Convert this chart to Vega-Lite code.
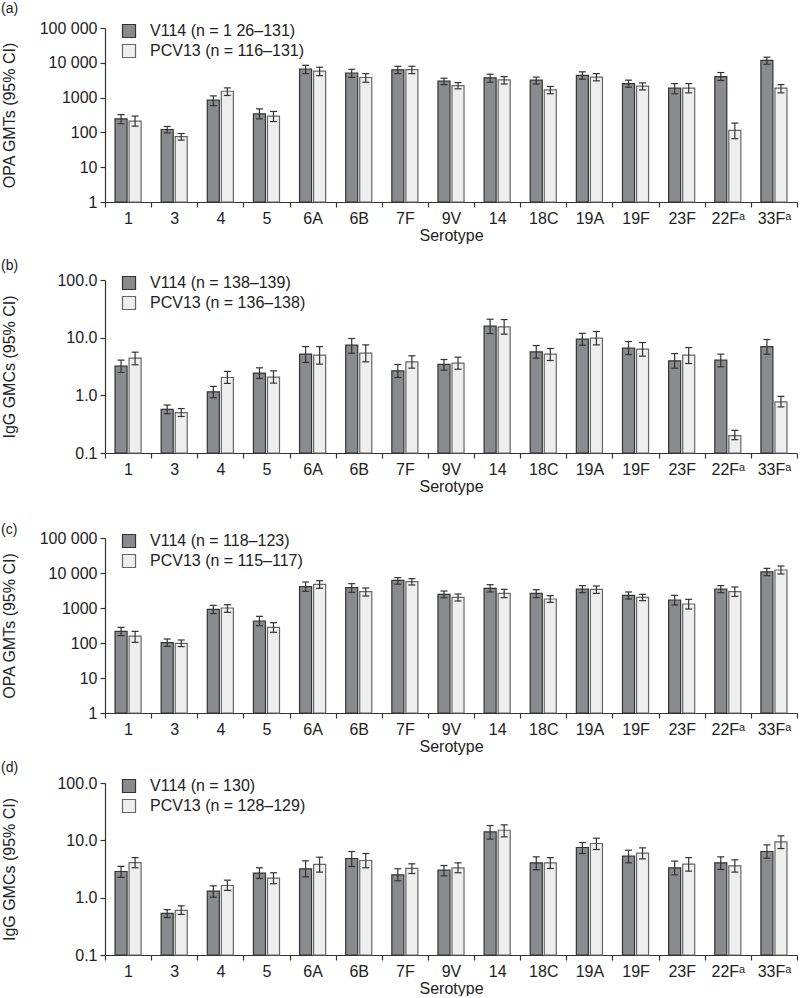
{
  "$schema": "https://vega.github.io/schema/vega-lite/v6.json",
  "padding": {"left": 0, "top": 0, "right": 0, "bottom": 0},
  "spacing": 0,
  "config": {
    "font": "Liberation Sans",
    "view": {"stroke": null},
    "axis": {"labelFont": "Liberation Sans", "titleFont": "Liberation Sans", "labelFontSize": 16, "titleFontSize": 16, "titleFontWeight": "normal", "labelColor": "#222", "titleColor": "#222", "domainColor": "#333", "tickColor": "#333", "grid": false, "tickSize": 5, "domainWidth": 1.2, "tickWidth": 1.2},
    "legend": {"labelFont": "Liberation Sans", "labelFontSize": 16, "labelColor": "#222"},
    "title": {"font": "Liberation Sans", "fontSize": 14, "fontWeight": "normal", "color": "#222", "anchor": "start", "frame": "bounds"}
  },
  "resolve": {"scale": {"x": "independent", "y": "independent", "color": "independent", "stroke": "independent"}, "legend": {"color": "independent"}},
  "datasets": {
    "d": [
      {"panel":"a","serotype":"1","vaccine":"V114","gmt":245,"lo":177,"hi":326},
      {"panel":"a","serotype":"1","vaccine":"PCV13","gmt":210,"lo":151,"hi":294},
      {"panel":"a","serotype":"3","vaccine":"V114","gmt":121,"lo":97,"hi":148},
      {"panel":"a","serotype":"3","vaccine":"PCV13","gmt":76,"lo":60,"hi":93},
      {"panel":"a","serotype":"4","vaccine":"V114","gmt":845,"lo":590,"hi":1120},
      {"panel":"a","serotype":"4","vaccine":"PCV13","gmt":1520,"lo":1150,"hi":1900},
      {"panel":"a","serotype":"5","vaccine":"V114","gmt":340,"lo":245,"hi":475},
      {"panel":"a","serotype":"5","vaccine":"PCV13","gmt":294,"lo":205,"hi":400},
      {"panel":"a","serotype":"6A","vaccine":"V114","gmt":6640,"lo":4900,"hi":8500},
      {"panel":"a","serotype":"6A","vaccine":"PCV13","gmt":5750,"lo":4270,"hi":7450},
      {"panel":"a","serotype":"6B","vaccine":"V114","gmt":5100,"lo":3800,"hi":6500},
      {"panel":"a","serotype":"6B","vaccine":"PCV13","gmt":3780,"lo":2760,"hi":4900},
      {"panel":"a","serotype":"7F","vaccine":"V114","gmt":6300,"lo":4900,"hi":7950},
      {"panel":"a","serotype":"7F","vaccine":"PCV13","gmt":6350,"lo":4900,"hi":7950},
      {"panel":"a","serotype":"9V","vaccine":"V114","gmt":2960,"lo":2360,"hi":3600},
      {"panel":"a","serotype":"9V","vaccine":"PCV13","gmt":2220,"lo":1790,"hi":2700},
      {"panel":"a","serotype":"14","vaccine":"V114","gmt":3700,"lo":2760,"hi":4700},
      {"panel":"a","serotype":"14","vaccine":"PCV13","gmt":3230,"lo":2460,"hi":4000},
      {"panel":"a","serotype":"18C","vaccine":"V114","gmt":3170,"lo":2460,"hi":3880},
      {"panel":"a","serotype":"18C","vaccine":"PCV13","gmt":1660,"lo":1290,"hi":2090},
      {"panel":"a","serotype":"19A","vaccine":"V114","gmt":4380,"lo":3380,"hi":5500},
      {"panel":"a","serotype":"19A","vaccine":"PCV13","gmt":3880,"lo":3030,"hi":4900},
      {"panel":"a","serotype":"19F","vaccine":"V114","gmt":2530,"lo":1990,"hi":3170},
      {"panel":"a","serotype":"19F","vaccine":"PCV13","gmt":2130,"lo":1660,"hi":2650},
      {"panel":"a","serotype":"23F","vaccine":"V114","gmt":1870,"lo":1290,"hi":2530},
      {"panel":"a","serotype":"23F","vaccine":"PCV13","gmt":1870,"lo":1370,"hi":2530},
      {"panel":"a","serotype":"22Fᵃ","vaccine":"V114","gmt":4000,"lo":3100,"hi":5250},
      {"panel":"a","serotype":"22Fᵃ","vaccine":"PCV13","gmt":114,"lo":66,"hi":185},
      {"panel":"a","serotype":"33Fᵃ","vaccine":"V114","gmt":11800,"lo":9100,"hi":14500},
      {"panel":"a","serotype":"33Fᵃ","vaccine":"PCV13","gmt":1870,"lo":1370,"hi":2360},

      {"panel":"b","serotype":"1","vaccine":"V114","gmt":3.2,"lo":2.49,"hi":4.07},
      {"panel":"b","serotype":"1","vaccine":"PCV13","gmt":4.41,"lo":3.38,"hi":5.6},
      {"panel":"b","serotype":"3","vaccine":"V114","gmt":0.57,"lo":0.48,"hi":0.68},
      {"panel":"b","serotype":"3","vaccine":"PCV13","gmt":0.5,"lo":0.43,"hi":0.59},
      {"panel":"b","serotype":"4","vaccine":"V114","gmt":1.15,"lo":0.91,"hi":1.43},
      {"panel":"b","serotype":"4","vaccine":"PCV13","gmt":2.04,"lo":1.61,"hi":2.6},
      {"panel":"b","serotype":"5","vaccine":"V114","gmt":2.43,"lo":1.96,"hi":3.0},
      {"panel":"b","serotype":"5","vaccine":"PCV13","gmt":2.07,"lo":1.63,"hi":2.66},
      {"panel":"b","serotype":"6A","vaccine":"V114","gmt":5.18,"lo":3.72,"hi":7.0},
      {"panel":"b","serotype":"6A","vaccine":"PCV13","gmt":4.97,"lo":3.48,"hi":7.0},
      {"panel":"b","serotype":"6B","vaccine":"V114","gmt":7.4,"lo":5.38,"hi":9.66},
      {"panel":"b","serotype":"6B","vaccine":"PCV13","gmt":5.38,"lo":3.81,"hi":7.5},
      {"panel":"b","serotype":"7F","vaccine":"V114","gmt":2.66,"lo":2.04,"hi":3.43},
      {"panel":"b","serotype":"7F","vaccine":"PCV13","gmt":3.81,"lo":2.96,"hi":4.85},
      {"panel":"b","serotype":"9V","vaccine":"V114","gmt":3.43,"lo":2.73,"hi":4.18},
      {"panel":"b","serotype":"9V","vaccine":"PCV13","gmt":3.61,"lo":2.84,"hi":4.59},
      {"panel":"b","serotype":"14","vaccine":"V114","gmt":15.8,"lo":11.8,"hi":20.9},
      {"panel":"b","serotype":"14","vaccine":"PCV13","gmt":15.4,"lo":11.5,"hi":20.6},
      {"panel":"b","serotype":"18C","vaccine":"V114","gmt":5.67,"lo":4.41,"hi":7.3},
      {"panel":"b","serotype":"18C","vaccine":"PCV13","gmt":5.18,"lo":4.02,"hi":6.49},
      {"panel":"b","serotype":"19A","vaccine":"V114","gmt":9.4,"lo":7.4,"hi":11.9},
      {"panel":"b","serotype":"19A","vaccine":"PCV13","gmt":9.78,"lo":7.5,"hi":12.8},
      {"panel":"b","serotype":"19F","vaccine":"V114","gmt":6.57,"lo":5.1,"hi":8.57},
      {"panel":"b","serotype":"19F","vaccine":"PCV13","gmt":6.31,"lo":4.78,"hi":8.24},
      {"panel":"b","serotype":"23F","vaccine":"V114","gmt":3.96,"lo":2.96,"hi":5.3},
      {"panel":"b","serotype":"23F","vaccine":"PCV13","gmt":4.97,"lo":3.56,"hi":6.74},
      {"panel":"b","serotype":"22Fᵃ","vaccine":"V114","gmt":4.07,"lo":3.12,"hi":5.18},
      {"panel":"b","serotype":"22Fᵃ","vaccine":"PCV13","gmt":0.2,"lo":0.17,"hi":0.247},
      {"panel":"b","serotype":"33Fᵃ","vaccine":"V114","gmt":7.0,"lo":5.18,"hi":9.29},
      {"panel":"b","serotype":"33Fᵃ","vaccine":"PCV13","gmt":0.77,"lo":0.63,"hi":0.96},

      {"panel":"c","serotype":"1","vaccine":"V114","gmt":215,"lo":162,"hi":280},
      {"panel":"c","serotype":"1","vaccine":"PCV13","gmt":158,"lo":104,"hi":215},
      {"panel":"c","serotype":"3","vaccine":"V114","gmt":102,"lo":80,"hi":130},
      {"panel":"c","serotype":"3","vaccine":"PCV13","gmt":98,"lo":79,"hi":122},
      {"panel":"c","serotype":"4","vaccine":"V114","gmt":916,"lo":689,"hi":1190},
      {"panel":"c","serotype":"4","vaccine":"PCV13","gmt":1000,"lo":752,"hi":1245},
      {"panel":"c","serotype":"5","vaccine":"V114","gmt":425,"lo":313,"hi":578},
      {"panel":"c","serotype":"5","vaccine":"PCV13","gmt":280,"lo":202,"hi":381},
      {"panel":"c","serotype":"6A","vaccine":"V114","gmt":4070,"lo":2990,"hi":5530},
      {"panel":"c","serotype":"6A","vaccine":"PCV13","gmt":4750,"lo":3650,"hi":6040},
      {"panel":"c","serotype":"6B","vaccine":"V114","gmt":3810,"lo":2800,"hi":4960},
      {"panel":"c","serotype":"6B","vaccine":"PCV13","gmt":2930,"lo":2200,"hi":3730},
      {"panel":"c","serotype":"7F","vaccine":"V114","gmt":6170,"lo":4800,"hi":7400},
      {"panel":"c","serotype":"7F","vaccine":"PCV13","gmt":5650,"lo":4540,"hi":6890},
      {"panel":"c","serotype":"9V","vaccine":"V114","gmt":2460,"lo":1970,"hi":3060},
      {"panel":"c","serotype":"9V","vaccine":"PCV13","gmt":2020,"lo":1585,"hi":2510},
      {"panel":"c","serotype":"14","vaccine":"V114","gmt":3650,"lo":2870,"hi":4640},
      {"panel":"c","serotype":"14","vaccine":"PCV13","gmt":2620,"lo":1970,"hi":3410},
      {"panel":"c","serotype":"18C","vaccine":"V114","gmt":2620,"lo":1970,"hi":3340},
      {"panel":"c","serotype":"18C","vaccine":"PCV13","gmt":1810,"lo":1450,"hi":2250},
      {"panel":"c","serotype":"19A","vaccine":"V114","gmt":3490,"lo":2740,"hi":4350},
      {"panel":"c","serotype":"19A","vaccine":"PCV13","gmt":3410,"lo":2620,"hi":4250},
      {"panel":"c","serotype":"19F","vaccine":"V114","gmt":2300,"lo":1810,"hi":2870},
      {"panel":"c","serotype":"19F","vaccine":"PCV13","gmt":2020,"lo":1620,"hi":2460},
      {"panel":"c","serotype":"23F","vaccine":"V114","gmt":1690,"lo":1220,"hi":2300},
      {"panel":"c","serotype":"23F","vaccine":"PCV13","gmt":1300,"lo":936,"hi":1770},
      {"panel":"c","serotype":"22Fᵃ","vaccine":"V114","gmt":3490,"lo":2740,"hi":4350},
      {"panel":"c","serotype":"22Fᵃ","vaccine":"PCV13","gmt":2930,"lo":2150,"hi":3980},
      {"panel":"c","serotype":"33Fᵃ","vaccine":"V114","gmt":10700,"lo":8390,"hi":13600},
      {"panel":"c","serotype":"33Fᵃ","vaccine":"PCV13","gmt":12200,"lo":9360,"hi":15850},

      {"panel":"d","serotype":"1","vaccine":"V114","gmt":2.86,"lo":2.25,"hi":3.5},
      {"panel":"d","serotype":"1","vaccine":"PCV13","gmt":4.1,"lo":3.32,"hi":5.0},
      {"panel":"d","serotype":"3","vaccine":"V114","gmt":0.53,"lo":0.45,"hi":0.62},
      {"panel":"d","serotype":"3","vaccine":"PCV13","gmt":0.6,"lo":0.51,"hi":0.72},
      {"panel":"d","serotype":"4","vaccine":"V114","gmt":1.3,"lo":1.02,"hi":1.61},
      {"panel":"d","serotype":"4","vaccine":"PCV13","gmt":1.63,"lo":1.34,"hi":2.02},
      {"panel":"d","serotype":"5","vaccine":"V114","gmt":2.68,"lo":2.16,"hi":3.32},
      {"panel":"d","serotype":"5","vaccine":"PCV13","gmt":2.19,"lo":1.75,"hi":2.72},
      {"panel":"d","serotype":"6A","vaccine":"V114","gmt":3.19,"lo":2.31,"hi":4.39},
      {"panel":"d","serotype":"6A","vaccine":"PCV13","gmt":3.8,"lo":2.79,"hi":5.08},
      {"panel":"d","serotype":"6B","vaccine":"V114","gmt":4.82,"lo":3.5,"hi":6.38},
      {"panel":"d","serotype":"6B","vaccine":"PCV13","gmt":4.45,"lo":3.32,"hi":5.89},
      {"panel":"d","serotype":"7F","vaccine":"V114","gmt":2.5,"lo":1.97,"hi":3.19},
      {"panel":"d","serotype":"7F","vaccine":"PCV13","gmt":3.23,"lo":2.64,"hi":3.89},
      {"panel":"d","serotype":"9V","vaccine":"V114","gmt":3.02,"lo":2.4,"hi":3.64},
      {"panel":"d","serotype":"9V","vaccine":"PCV13","gmt":3.32,"lo":2.72,"hi":4.05},
      {"panel":"d","serotype":"14","vaccine":"V114","gmt":14.0,"lo":10.5,"hi":18.1},
      {"panel":"d","serotype":"14","vaccine":"PCV13","gmt":15.0,"lo":11.5,"hi":18.6},
      {"panel":"d","serotype":"18C","vaccine":"V114","gmt":4.05,"lo":3.06,"hi":5.15},
      {"panel":"d","serotype":"18C","vaccine":"PCV13","gmt":4.05,"lo":3.23,"hi":5.0},
      {"panel":"d","serotype":"19A","vaccine":"V114","gmt":7.5,"lo":5.89,"hi":9.16},
      {"panel":"d","serotype":"19A","vaccine":"PCV13","gmt":8.8,"lo":6.92,"hi":10.9},
      {"panel":"d","serotype":"19F","vaccine":"V114","gmt":5.3,"lo":4.05,"hi":6.73},
      {"panel":"d","serotype":"19F","vaccine":"PCV13","gmt":5.97,"lo":4.75,"hi":7.39},
      {"panel":"d","serotype":"23F","vaccine":"V114","gmt":3.32,"lo":2.5,"hi":4.34},
      {"panel":"d","serotype":"23F","vaccine":"PCV13","gmt":3.84,"lo":2.9,"hi":5.0},
      {"panel":"d","serotype":"22Fᵃ","vaccine":"V114","gmt":4.05,"lo":3.1,"hi":5.15},
      {"panel":"d","serotype":"22Fᵃ","vaccine":"PCV13","gmt":3.59,"lo":2.79,"hi":4.57},
      {"panel":"d","serotype":"33Fᵃ","vaccine":"V114","gmt":6.38,"lo":4.89,"hi":8.34},
      {"panel":"d","serotype":"33Fᵃ","vaccine":"PCV13","gmt":9.4,"lo":7.19,"hi":11.97}
    ]
  },
  "vconcat": [
    {
      "title": {"text": "(a)", "offset": -16},
      "width": 692, "height": 174,
      "data": {"name": "d"},
      "transform": [{"filter": "datum.panel == 'a'"}],
      "encoding": {
        "x": {"field": "serotype", "type": "nominal", "sort": ["1","3","4","5","6A","6B","7F","9V","14","18C","19A","19F","23F","22Fᵃ","33Fᵃ"], "scale": {"paddingInner": 0, "paddingOuter": 0}, "axis": {"title": "Serotype", "labelAngle": 0, "tickBand": "extent", "labelPadding": 3, "titlePadding": 1}},
        "xOffset": {"field": "vaccine", "type": "nominal", "sort": ["V114","PCV13"], "scale": {"domain": ["V114","PCV13"], "paddingInner": 0.143, "paddingOuter": 0.714}}
      },
      "layer": [
        {"mark": {"type": "bar", "strokeWidth": 1.2, "opacity": 1},
         "encoding": {
           "y": {"field": "gmt", "type": "quantitative", "scale": {"type": "log", "domain": [1, 100000], "nice": false}, "axis": {"title": "OPA  GMTs (95% CI)", "values": [1,10,100,1000,10000,100000], "labelExpr": "datum.value == 100000 ? '100 000' : datum.value == 10000 ? '10 000' : format(datum.value, 'd')", "labelPadding": 3, "titleX": -88}},
           "y2": {"datum": 1},
           "color": {"field": "vaccine", "type": "nominal", "scale": {"domain": ["V114","PCV13"], "range": ["#898b8e","#eeeeee"]}, "legend": {"orient": "none", "padding": 23, "legendX": -7, "legendY": -28, "title": null, "symbolType": "square", "symbolSize": 170, "symbolStrokeColor": "#333", "symbolStrokeWidth": 1.2, "symbolOpacity": 1, "labelOffset": 13, "rowPadding": 2, "labelExpr": "datum.label == 'V114' ? 'V114 (n = 1 26–131)' : 'PCV13 (n = 116–131)'"}},
           "stroke": {"field": "vaccine", "type": "nominal", "scale": {"domain": ["V114","PCV13"], "range": ["#333333","#666666"]}, "legend": null}
         }},
        {"mark": {"type": "rule", "color": "#333", "strokeWidth": 1.2}, "encoding": {"y": {"field": "lo", "type": "quantitative"}, "y2": {"field": "hi"}}},
        {"mark": {"type": "tick", "color": "#333", "thickness": 1.2, "size": 7, "opacity": 1}, "encoding": {"y": {"field": "lo", "type": "quantitative"}}},
        {"mark": {"type": "tick", "color": "#333", "thickness": 1.2, "size": 7, "opacity": 1}, "encoding": {"y": {"field": "hi", "type": "quantitative"}}}
      ]
    },
    {
      "title": {"text": "(b)", "offset": -30},
      "width": 692, "height": 173,
      "data": {"name": "d"},
      "transform": [{"filter": "datum.panel == 'b'"}],
      "encoding": {
        "x": {"field": "serotype", "type": "nominal", "sort": ["1","3","4","5","6A","6B","7F","9V","14","18C","19A","19F","23F","22Fᵃ","33Fᵃ"], "scale": {"paddingInner": 0, "paddingOuter": 0}, "axis": {"title": "Serotype", "labelAngle": 0, "tickBand": "extent", "labelPadding": 3, "titlePadding": 1}},
        "xOffset": {"field": "vaccine", "type": "nominal", "sort": ["V114","PCV13"], "scale": {"domain": ["V114","PCV13"], "paddingInner": 0.143, "paddingOuter": 0.714}}
      },
      "layer": [
        {"mark": {"type": "bar", "strokeWidth": 1.2, "opacity": 1},
         "encoding": {
           "y": {"field": "gmt", "type": "quantitative", "scale": {"type": "log", "domain": [0.1, 100], "nice": false}, "axis": {"title": "IgG GMCs (95% CI)", "values": [0.1,1,10,100], "format": ".1f", "labelPadding": 3, "titleX": -88}},
           "y2": {"datum": 0.1},
           "color": {"field": "vaccine", "type": "nominal", "scale": {"domain": ["V114","PCV13"], "range": ["#898b8e","#eeeeee"]}, "legend": {"orient": "none", "padding": 32, "legendX": -16, "legendY": -37, "title": null, "symbolType": "square", "symbolSize": 170, "symbolStrokeColor": "#333", "symbolStrokeWidth": 1.2, "symbolOpacity": 1, "labelOffset": 13, "rowPadding": 2, "labelExpr": "datum.label == 'V114' ? 'V114 (n = 138–139)' : 'PCV13 (n = 136–138)'"}},
           "stroke": {"field": "vaccine", "type": "nominal", "scale": {"domain": ["V114","PCV13"], "range": ["#333333","#666666"]}, "legend": null}
         }},
        {"mark": {"type": "rule", "color": "#333", "strokeWidth": 1.2}, "encoding": {"y": {"field": "lo", "type": "quantitative"}, "y2": {"field": "hi"}}},
        {"mark": {"type": "tick", "color": "#333", "thickness": 1.2, "size": 7, "opacity": 1}, "encoding": {"y": {"field": "lo", "type": "quantitative"}}},
        {"mark": {"type": "tick", "color": "#333", "thickness": 1.2, "size": 7, "opacity": 1}, "encoding": {"y": {"field": "hi", "type": "quantitative"}}}
      ]
    },
    {
      "title": {"text": "(c)", "offset": -43},
      "width": 692, "height": 175,
      "data": {"name": "d"},
      "transform": [{"filter": "datum.panel == 'c'"}],
      "encoding": {
        "x": {"field": "serotype", "type": "nominal", "sort": ["1","3","4","5","6A","6B","7F","9V","14","18C","19A","19F","23F","22Fᵃ","33Fᵃ"], "scale": {"paddingInner": 0, "paddingOuter": 0}, "axis": {"title": "Serotype", "labelAngle": 0, "tickBand": "extent", "labelPadding": 3, "titlePadding": 1}},
        "xOffset": {"field": "vaccine", "type": "nominal", "sort": ["V114","PCV13"], "scale": {"domain": ["V114","PCV13"], "paddingInner": 0.143, "paddingOuter": 0.714}}
      },
      "layer": [
        {"mark": {"type": "bar", "strokeWidth": 1.2, "opacity": 1},
         "encoding": {
           "y": {"field": "gmt", "type": "quantitative", "scale": {"type": "log", "domain": [1, 100000], "nice": false}, "axis": {"title": "OPA  GMTs (95% CI)", "values": [1,10,100,1000,10000,100000], "labelExpr": "datum.value == 100000 ? '100 000' : datum.value == 10000 ? '10 000' : format(datum.value, 'd')", "labelPadding": 3, "titleX": -88}},
           "y2": {"datum": 1},
           "color": {"field": "vaccine", "type": "nominal", "scale": {"domain": ["V114","PCV13"], "range": ["#898b8e","#eeeeee"]}, "legend": {"orient": "none", "padding": 39, "legendX": -23, "legendY": -44, "title": null, "symbolType": "square", "symbolSize": 170, "symbolStrokeColor": "#333", "symbolStrokeWidth": 1.2, "symbolOpacity": 1, "labelOffset": 13, "rowPadding": 2, "labelExpr": "datum.label == 'V114' ? 'V114 (n = 118–123)' : 'PCV13 (n = 115–117)'"}},
           "stroke": {"field": "vaccine", "type": "nominal", "scale": {"domain": ["V114","PCV13"], "range": ["#333333","#666666"]}, "legend": null}
         }},
        {"mark": {"type": "rule", "color": "#333", "strokeWidth": 1.2}, "encoding": {"y": {"field": "lo", "type": "quantitative"}, "y2": {"field": "hi"}}},
        {"mark": {"type": "tick", "color": "#333", "thickness": 1.2, "size": 7, "opacity": 1}, "encoding": {"y": {"field": "lo", "type": "quantitative"}}},
        {"mark": {"type": "tick", "color": "#333", "thickness": 1.2, "size": 7, "opacity": 1}, "encoding": {"y": {"field": "hi", "type": "quantitative"}}}
      ]
    },
    {
      "title": {"text": "(d)", "offset": -21},
      "width": 692, "height": 172,
      "data": {"name": "d"},
      "transform": [{"filter": "datum.panel == 'd'"}],
      "encoding": {
        "x": {"field": "serotype", "type": "nominal", "sort": ["1","3","4","5","6A","6B","7F","9V","14","18C","19A","19F","23F","22Fᵃ","33Fᵃ"], "scale": {"paddingInner": 0, "paddingOuter": 0}, "axis": {"title": "Serotype", "labelAngle": 0, "tickBand": "extent", "labelPadding": 3, "titlePadding": 1}},
        "xOffset": {"field": "vaccine", "type": "nominal", "sort": ["V114","PCV13"], "scale": {"domain": ["V114","PCV13"], "paddingInner": 0.143, "paddingOuter": 0.714}}
      },
      "layer": [
        {"mark": {"type": "bar", "strokeWidth": 1.2, "opacity": 1},
         "encoding": {
           "y": {"field": "gmt", "type": "quantitative", "scale": {"type": "log", "domain": [0.1, 100], "nice": false}, "axis": {"title": "IgG GMCs (95% CI)", "values": [0.1,1,10,100], "format": ".1f", "labelPadding": 3, "titleX": -88}},
           "y2": {"datum": 0.1},
           "color": {"field": "vaccine", "type": "nominal", "scale": {"domain": ["V114","PCV13"], "range": ["#898b8e","#eeeeee"]}, "legend": {"orient": "none", "padding": 24, "legendX": -8, "legendY": -29, "title": null, "symbolType": "square", "symbolSize": 170, "symbolStrokeColor": "#333", "symbolStrokeWidth": 1.2, "symbolOpacity": 1, "labelOffset": 13, "rowPadding": 2, "labelExpr": "datum.label == 'V114' ? 'V114 (n = 130)' : 'PCV13 (n = 128–129)'"}},
           "stroke": {"field": "vaccine", "type": "nominal", "scale": {"domain": ["V114","PCV13"], "range": ["#333333","#666666"]}, "legend": null}
         }},
        {"mark": {"type": "rule", "color": "#333", "strokeWidth": 1.2}, "encoding": {"y": {"field": "lo", "type": "quantitative"}, "y2": {"field": "hi"}}},
        {"mark": {"type": "tick", "color": "#333", "thickness": 1.2, "size": 7, "opacity": 1}, "encoding": {"y": {"field": "lo", "type": "quantitative"}}},
        {"mark": {"type": "tick", "color": "#333", "thickness": 1.2, "size": 7, "opacity": 1}, "encoding": {"y": {"field": "hi", "type": "quantitative"}}}
      ]
    }
  ]
}
